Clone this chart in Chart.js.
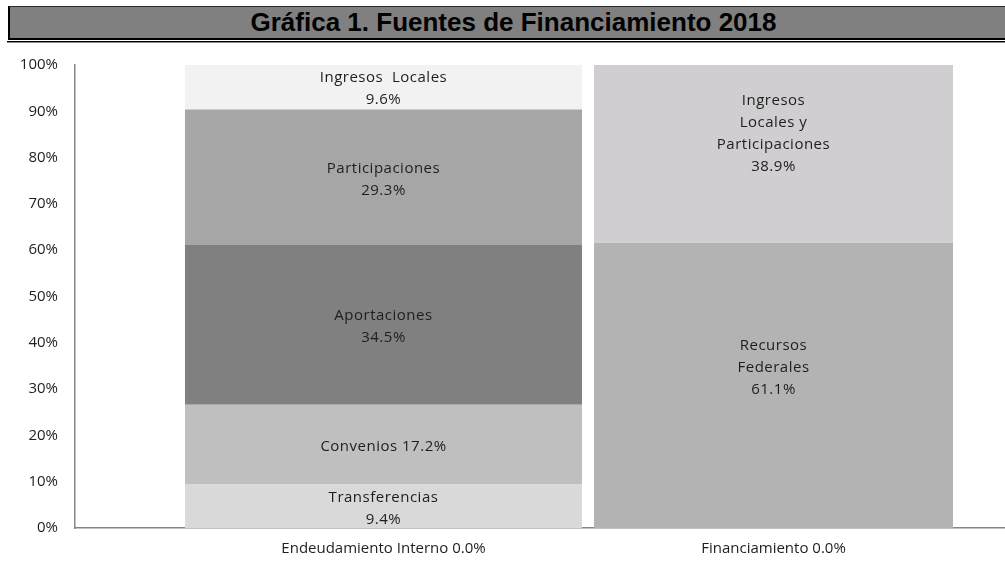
<!DOCTYPE html>
<html>
<head>
<meta charset="utf-8">
<script src="https://cdn.jsdelivr.net/npm/chart.js@4.4.0/dist/chart.umd.min.js"></script>
<style>
  html, body { margin: 0; padding: 0; background: #fff; width: 1005px; height: 562px; overflow: hidden; }
  #wrap { position: relative; width: 1005px; height: 562px; }
  #chart { position: absolute; left: 0; top: 0; }
  #banner {
    position: absolute; left: 8px; top: 6px; right: 0; height: 31px;
    background: #808080; border-top: 1px solid #2a2a2a; border-left: 2px solid #000; border-bottom: 2px solid #000;
    font-family: "Liberation Sans", Arial, sans-serif; font-weight: bold; font-size: 26px; color: #000;
    text-align: center; line-height: 31px; padding-left: 12px; box-sizing: content-box; z-index: 2;
  }
  #rule2 { position: absolute; left: 7px; top: 41px; right: 0; height: 1px; background: #000; border-bottom: 1px solid #888; z-index: 2; }
</style>
</head>
<body>
<div id="wrap">
  <div id="banner">Gráfica 1. Fuentes de Financiamiento 2018</div>
  <div id="rule2"></div>
  <canvas id="chart" width="1005" height="562"></canvas>
</div>
<script>
// ---- data ----
const categories = ['Endeudamiento Interno 0.0%', 'Financiamiento 0.0%'];

const leftNames = ['Transferencias', 'Convenios', 'Aportaciones', 'Participaciones', 'Ingresos  Locales'];
const leftValues = [9.4, 17.2, 34.5, 29.3, 9.6];
const leftNameLines = [['Transferencias'], ['Convenios'], ['Aportaciones'], ['Participaciones'], ['Ingresos  Locales']];
const leftInlinePct = [false, true, false, false, false];
const leftColors = ['#d9d9d9', '#bfbfbf', '#808080', '#a6a6a6', '#f2f2f2'];

const rightNames = ['Recursos Federales', 'Ingresos Locales y Participaciones'];
const rightValues = [61.1, 38.9];
const rightNameLines = [['Recursos', 'Federales'], ['Ingresos', 'Locales y', 'Participaciones']];
const rightColors = ['#b3b3b3', '#d0ced0'];

const yTickValues = [0, 10, 20, 30, 40, 50, 60, 70, 80, 90, 100];

// ---- build datasets ----
const pct = v => v.toFixed(1) + '%';
const datasets = [];
leftValues.forEach((v, i) => {
  const lines = leftInlinePct[i]
    ? [leftNameLines[i].join(' ') + ' ' + pct(v)]
    : leftNameLines[i].concat([pct(v)]);
  datasets.push({
    label: leftNames[i], data: [{ x: 0, y: v }], backgroundColor: leftColors[i],
    yAxisID: 'y', stack: 's', barPercentage: 1.018, categoryPercentage: 1,
    labelLines: lines, labelShift: 2
  });
});
rightValues.forEach((v, i) => {
  datasets.push({
    label: rightNames[i], data: [{ x: 1, y: v }], backgroundColor: rightColors[i],
    yAxisID: 'y2', stack: 's', barPercentage: 0.9205, categoryPercentage: 1,
    labelLines: rightNameLines[i].concat([pct(v)]), labelShift: -18
  });
});

const labelFont = '15px "Open Sans", sans-serif';

const segmentLabels = {
  id: 'segmentLabels',
  afterDatasetsDraw(chart) {
    const ctx = chart.ctx;
    ctx.save();
    ctx.font = labelFont;
    ctx.fillStyle = '#1e1e1e';
    ctx.textAlign = 'center';
    ctx.textBaseline = 'middle';
    if ('letterSpacing' in ctx) ctx.letterSpacing = '0.5px';
    chart.data.datasets.forEach((ds, di) => {
      const meta = chart.getDatasetMeta(di);
      meta.data.forEach(el => {
        const p = el.getProps(['x', 'y', 'base'], true);
        const cy = (p.y + p.base) / 2 + (ds.labelShift || 0);
        const lh = 22;
        const n = ds.labelLines.length;
        ds.labelLines.forEach((t, k) => {
          ctx.fillText(t, p.x, cy + (k - (n - 1) / 2) * lh);
        });
      });
    });
    ctx.restore();
  }
};

const tickFont = { family: '"Open Sans", sans-serif', size: 15 };

new Chart(document.getElementById('chart'), {
  type: 'bar',
  data: { datasets },
  plugins: [segmentLabels],
  options: {
    responsive: false,
    animation: false,
    layout: { padding: { top: 65, right: 1, left: 0, bottom: 0 } },
    plugins: { legend: { display: false }, tooltip: { enabled: false }, title: { display: false } },
    scales: {
      x: {
        type: 'linear', min: -0.791, max: 1.591, stacked: true, offset: false, bounds: 'data',
        grid: { display: false, drawTicks: false },
        border: { display: true, color: '#868686', width: 1.5 },
        afterBuildTicks: s => { s.ticks = categories.map((c, i) => ({ value: i })); },
        afterFit: s => { s.height = 34; },
        ticks: {
          autoSkip: false, maxRotation: 0, padding: 12, color: '#1e1e1e', font: tickFont,
          callback: v => categories[v]
        }
      },
      y: {
        min: 0, max: 100, stacked: true,
        grid: { display: false, drawTicks: false },
        border: { display: true, color: '#868686', width: 1.5 },
        afterBuildTicks: s => { s.ticks = yTickValues.map(v => ({ value: v })); },
        afterFit: s => { s.width = 75; },
        ticks: { padding: 17, color: '#1e1e1e', font: tickFont, callback: v => v + '%' }
      },
      y2: {
        display: false, min: 0, max: 99.14, stacked: true
      }
    }
  }
});
</script>
</body>
</html>
